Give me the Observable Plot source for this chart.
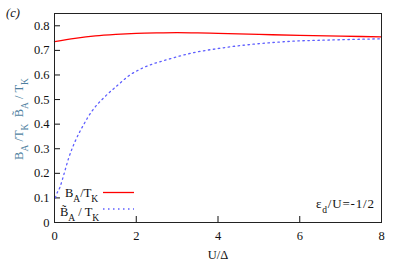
<!DOCTYPE html>
<html><head><meta charset="utf-8">
<script src="https://cdn.jsdelivr.net/npm/d3@7"></script>
<script src="https://cdn.jsdelivr.net/npm/@observablehq/plot@0.6"></script>
<style>
body{margin:0;background:#fff}
#chart svg, #chart svg text, #chart svg tspan { font-family: "Liberation Serif", "Times New Roman", serif !important; }
</style>
</head><body><div id="chart"></div>
<script>
const redX = [0, 0.5, 1, 1.5, 2, 2.5, 3, 3.5, 4, 5, 6, 7, 8];
const redY = [0.736, 0.749, 0.759, 0.765, 0.769, 0.771, 0.772, 0.771, 0.769, 0.765, 0.761, 0.758, 0.755];
const blueX = [0.02, 0.05, 0.13, 0.23, 0.35, 0.51, 0.72, 0.92, 1.21, 1.53, 1.82, 2.18, 2.79, 3.41, 4.02, 5.69, 6.91, 8];
const blueY = [0.10, 0.115, 0.142, 0.196, 0.264, 0.332, 0.400, 0.454, 0.508, 0.556, 0.597, 0.630, 0.664, 0.691, 0.708, 0.736, 0.743, 0.747];
const xTicks = [0, 2, 4, 6, 8];
const yTicks = [0, 0.1, 0.2, 0.3, 0.4, 0.5, 0.6, 0.7, 0.8];
const yTickLabels = ["0", "0.1", "0.2", "0.3", "0.4", "0.5", "0.6", "0.7", "0.8"];

const red = redX.map((x, i) => ({x, y: redY[i]}));
const blue = blueX.map((x, i) => ({x, y: blueY[i]}));

const W = 399, H = 266;
const mL = 54, mR = 18, mT = 13, mB = 44;

const plot = Plot.plot({
  width: W, height: H,
  marginLeft: mL, marginRight: mR, marginTop: mT, marginBottom: mB,
  style: {fontSize: "12px", color: "#111", background: "#fff"},
  x: {domain: [0, 8]},
  y: {domain: [0, 0.85]},
  marks: [
    Plot.axisX({ticks: xTicks, tickSize: -6, tickPadding: 15, label: null, fontSize: 12.5}),
    Plot.axisY({ticks: yTicks, tickFormat: (d, i) => yTickLabels[i], tickSize: -6, tickPadding: 11, label: null, fontSize: 12.5}),
    Plot.line(blue, {x: "x", y: "y", stroke: "#5f5fff", strokeWidth: 1.3, strokeDasharray: "1.5,3.5", curve: "monotone-x"}),
    Plot.line(red, {x: "x", y: "y", stroke: "#ff0000", strokeWidth: 1.3, curve: "monotone-x"}),
    Plot.frame({stroke: "#222", strokeWidth: 1})
  ]
});
document.getElementById("chart").appendChild(plot);

const svg = d3.select(plot);
const g = svg.append("g").attr("font-size", 12.5).attr("fill", "#111").attr("text-anchor", "start");

function sub(textEl, parts) {
  parts.forEach(([t, s]) => {
    const ts = textEl.append("tspan").text(t);
    if (s) ts.attr("font-size", 9.5).attr("baseline-shift", "sub");
  });
}

// panel label
g.append("text").attr("x", 6).attr("y", 17).attr("font-style", "italic").text("(c)");

// x label
g.append("text").attr("x", 218).attr("y", 259).attr("text-anchor", "middle").text("U/Δ");

// y label
const yl = g.append("text").attr("transform", "translate(23,119) rotate(-90)")
  .attr("text-anchor", "middle").attr("fill", "#4f7f9f");
sub(yl, [["B", 0], ["A", 1], [" /T", 0], ["K", 1], ["  B̃", 0], ["A", 1], [" / T", 0], ["K", 1]]);

// annotation
const an = g.append("text").attr("x", 316).attr("y", 208).attr("font-size", 13)
  .attr("textLength", 58).attr("lengthAdjust", "spacing");
sub(an, [["ε", 0], ["d", 1], ["/U=-1/2", 0]]);

// legend
const l1 = g.append("text").attr("x", 65).attr("y", 197);
sub(l1, [["B", 0], ["A", 1], ["/T", 0], ["K", 1]]);
g.append("line").attr("x1", 103).attr("x2", 134).attr("y1", 192.5).attr("y2", 192.5)
  .attr("stroke", "#ff0000").attr("stroke-width", 1.3);
const l2 = g.append("text").attr("x", 60).attr("y", 216);
sub(l2, [["B̃", 0], ["A", 1], [" / T", 0], ["K", 1]]);
g.append("line").attr("x1", 103).attr("x2", 134).attr("y1", 209).attr("y2", 209)
  .attr("stroke", "#5f5fff").attr("stroke-width", 1.3).attr("stroke-dasharray", "1.5,3.5");
</script>
</body></html>
